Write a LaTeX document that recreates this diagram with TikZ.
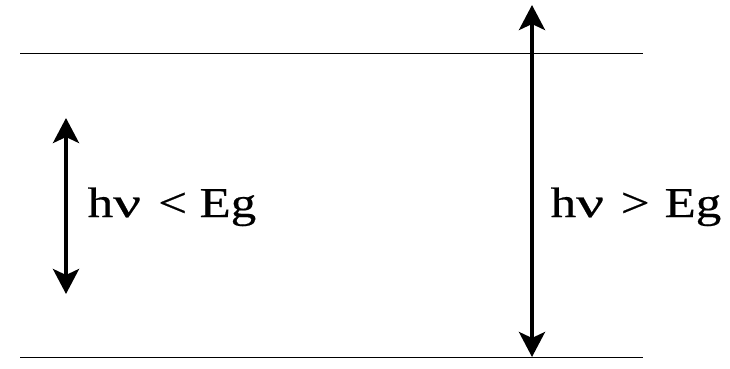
\documentclass[tikz,border=0pt]{standalone}
\usepackage{fontspec}
\setmainfont{Liberation Serif}
\newfontfamily\heavyserif{Liberation Serif}[FakeBold=0.4]
\usetikzlibrary{arrows.meta}
\newcommand{\wideword}[1]{\scalebox{1.2}[1]{#1}}
\newcommand{\widenu}{\scalebox{1.45}[1]{ν}}
\begin{document}
\begin{tikzpicture}[x=1pt,y=1pt,
  level/.style={line width=1.5pt},
  bigarrow/.style={line width=4pt,{Stealth[length=25pt,width=26pt,inset=6pt]}-{Stealth[length=25pt,width=26pt,inset=6pt]}},
  lbl/.style={inner sep=0pt,anchor=base west,font=\heavyserif\fontsize{42.5}{46}\selectfont}]
\useasboundingbox (0,0) rectangle (730,-368);
\coordinate (t1) at (20,-53.5);
\coordinate (t2) at (643,-53.5);
\coordinate (b1) at (20,-357.5);
\coordinate (b2) at (643,-357.5);
\draw[level] (t1) -- (t2);
\draw[level] (b1) -- (b2);
\coordinate (la) at (66,-118);
\coordinate (lb) at (66,-294);
\coordinate (ra) at (532,-5);
\coordinate (rb) at (532,-357);
\draw[bigarrow] (la) -- (lb);
\draw[bigarrow] (ra) -- (rb);
\node[lbl] (l1) at (87.5,-217) {\wideword{h}\widenu\wideword{\hspace{14.3pt}<\hspace{10.5pt}Eg}};
\node[lbl] (l2) at (550.5,-217) {\wideword{h}\widenu\wideword{\hspace{14pt}>\hspace{12.5pt}Eg}};
\end{tikzpicture}
\end{document}
